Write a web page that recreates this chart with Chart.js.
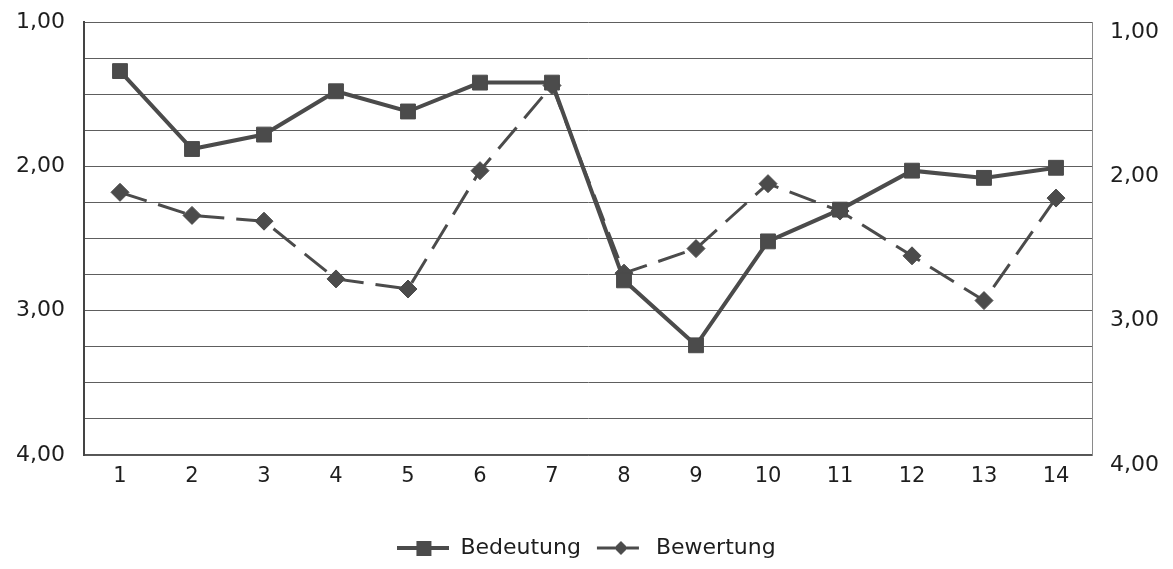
<!DOCTYPE html>
<html>
<head>
<meta charset="utf-8">
<script src="https://cdn.jsdelivr.net/npm/chart.js@4/dist/chart.umd.min.js"></script>
<style>
  html, body { margin: 0; padding: 0; background: #ffffff; }
  #wrap { width: 1173px; height: 569px; }
</style>
</head>
<body>
<div id="wrap"><canvas id="c" width="1173" height="569"></canvas></div>
<script>
const categories = ['1','2','3','4','5','6','7','8','9','10','11','12','13','14'];
const bedeutung = [1.34, 1.88, 1.78, 1.48, 1.62, 1.42, 1.42, 2.79, 3.24, 2.52, 2.30, 2.03, 2.08, 2.01];
const bewertung = [2.18, 2.34, 2.38, 2.78, 2.85, 2.03, 1.44, 2.74, 2.57, 2.12, 2.31, 2.62, 2.93, 2.22];
const yTickValues = [1, 2, 3, 4];
const yTickLabels = ['1,00', '2,00', '3,00', '4,00'];
const seriesNames = ['Bedeutung', 'Bewertung'];

const LINE = '#4b4b4b';
const TEXT = '#1e1e1e';
const FONT = 'DejaVu Sans';

function legendIcon(kind) {
  const c = document.createElement('canvas');
  c.width = 52; c.height = 18;
  const g = c.getContext('2d');
  g.strokeStyle = LINE; g.fillStyle = LINE;
  if (kind === 'square') {
    g.lineWidth = 4;
    g.beginPath(); g.moveTo(0, 9); g.lineTo(52, 9); g.stroke();
    g.fillRect(19, 2, 15, 15);
  } else {
    g.lineWidth = 3;
    g.beginPath(); g.moveTo(4, 9); g.lineTo(22, 9); g.stroke();
    g.beginPath(); g.moveTo(34, 9); g.lineTo(46, 9); g.stroke();
    g.beginPath(); g.moveTo(28, 2); g.lineTo(35, 9); g.lineTo(28, 16); g.lineTo(21, 9); g.closePath(); g.fill();
  }
  return c;
}
const icons = [legendIcon('square'), legendIcon('diamond')];

function yLabel(v) {
  const i = yTickValues.indexOf(Math.round(v * 1000) / 1000);
  return i >= 0 ? yTickLabels[i] : '';
}

function fixVertical(width) {
  return s => { s.width = width; s.paddingTop = 12; s.paddingBottom = 12; };
}

new Chart(document.getElementById('c'), {
  type: 'line',
  data: {
    labels: categories,
    datasets: [
      {
        label: seriesNames[0], data: bedeutung, yAxisID: 'y',
        borderColor: LINE, backgroundColor: LINE, borderWidth: 4,
        pointStyle: 'rect', pointRadius: 10.5, pointBackgroundColor: LINE,
        pointBorderColor: LINE, pointBorderWidth: 1, tension: 0
      },
      {
        label: seriesNames[1], data: bewertung, yAxisID: 'y',
        borderColor: LINE, backgroundColor: LINE, borderWidth: 3, borderDash: [28, 12],
        pointStyle: 'rectRot', pointRadius: 9, pointBackgroundColor: LINE,
        pointBorderColor: LINE, pointBorderWidth: 1, tension: 0
      }
    ]
  },
  options: {
    responsive: false,
    animation: false,
    devicePixelRatio: 1,
    layout: { padding: { top: 22, bottom: 0, left: 0, right: 0 } },
    scales: {
      x: {
        type: 'category',
        offset: true,
        grid: { display: false, drawTicks: false },
        border: { display: true, color: '#555555', width: 1.5 },
        ticks: { color: TEXT, font: { family: FONT, size: 21 }, padding: 9, maxRotation: 0, autoSkip: false },
        afterFit: s => { s.height = 70; }
      },
      y: {
        position: 'left',
        reverse: true, min: 1, max: 4,
        grid: { color: '#5e5e5e', lineWidth: 1, drawTicks: false },
        border: { display: true, color: '#444444', width: 2 },
        ticks: { stepSize: 0.25, autoSkip: false, color: TEXT, font: { family: FONT, size: 22 }, padding: 19, callback: v => yLabel(v) },
        afterFit: fixVertical(84)
      },
      y2: {
        position: 'right',
        reverse: true, min: 1, max: 4,
        grid: { drawOnChartArea: false, drawTicks: false },
        border: { display: true, color: '#8a8a8a', width: 1 },
        ticks: { stepSize: 0.25, autoSkip: false, color: TEXT, font: { family: FONT, size: 22 }, padding: 18, labelOffset: 10, callback: v => yLabel(v) },
        afterFit: fixVertical(81)
      }
    },
    plugins: {
      tooltip: { enabled: false },
      legend: {
        position: 'bottom',
        labels: {
          color: TEXT,
          font: { family: FONT, size: 22 },
          usePointStyle: true,
          pointStyleWidth: 52,
          padding: 12,
          generateLabels: chart => chart.data.datasets.map((d, i) => ({
            text: d.label, pointStyle: icons[i], datasetIndex: i,
            fillStyle: LINE, strokeStyle: LINE, lineWidth: 0, hidden: false, fontColor: TEXT
          }))
        }
      }
    }
  }
});
</script>
</body>
</html>
